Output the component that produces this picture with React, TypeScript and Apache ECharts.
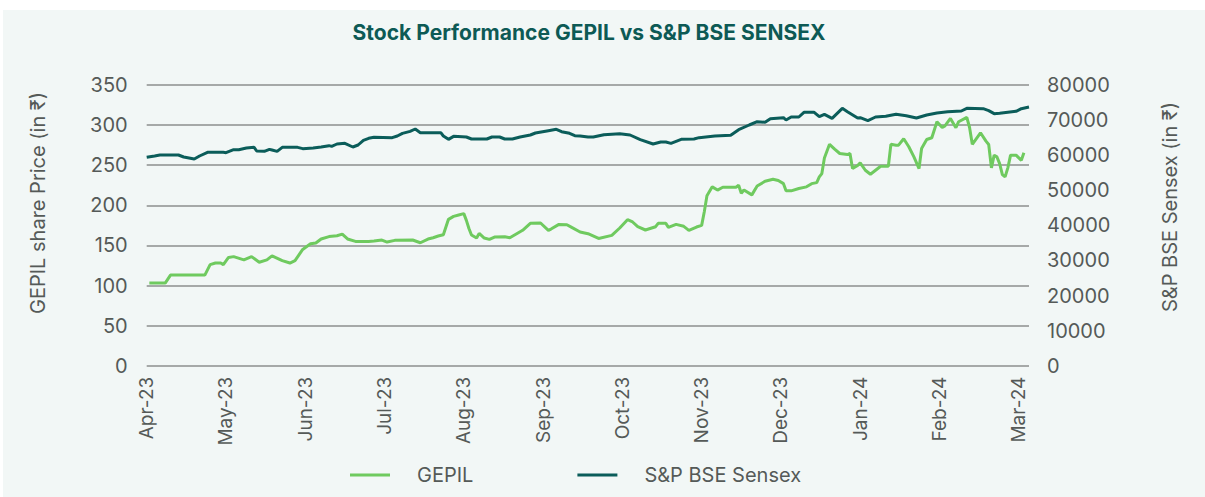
import { useEffect, useRef } from 'react';
import * as echarts from 'echarts';

const monthLabels = ['Apr-23', 'May-23', 'Jun-23', 'Jul-23', 'Aug-23', 'Sep-23', 'Oct-23', 'Nov-23', 'Dec-23', 'Jan-24', 'Feb-24', 'Mar-24'];

const gepilDates = [
  '2023-04-02', '2023-04-08', '2023-04-10', '2023-04-23', '2023-04-25', '2023-04-27', '2023-04-29', '2023-04-30',
  '2023-05-02', '2023-05-04', '2023-05-08', '2023-05-11', '2023-05-14', '2023-05-17', '2023-05-19', '2023-05-23',
  '2023-05-26', '2023-05-28', '2023-05-31', '2023-06-03', '2023-06-05', '2023-06-07', '2023-06-10', '2023-06-13',
  '2023-06-15', '2023-06-17', '2023-06-20', '2023-06-25', '2023-06-27', '2023-06-30', '2023-07-02', '2023-07-05',
  '2023-07-12', '2023-07-15', '2023-07-18', '2023-07-20', '2023-07-22', '2023-07-24', '2023-07-26', '2023-07-28',
  '2023-07-30', '2023-08-01', '2023-08-02', '2023-08-03', '2023-08-04', '2023-08-06', '2023-08-07', '2023-08-09',
  '2023-08-11', '2023-08-13', '2023-08-17', '2023-08-19', '2023-08-24', '2023-08-27', '2023-08-31', '2023-09-03',
  '2023-09-04', '2023-09-07', '2023-09-10', '2023-09-12', '2023-09-15', '2023-09-18', '2023-09-22', '2023-09-27',
  '2023-09-30', '2023-10-03', '2023-10-05', '2023-10-07', '2023-10-10', '2023-10-14', '2023-10-15', '2023-10-18',
  '2023-10-19', '2023-10-22', '2023-10-25', '2023-10-27', '2023-10-30', '2023-11-01', '2023-11-02', '2023-11-03',
  '2023-11-05', '2023-11-07', '2023-11-09', '2023-11-14', '2023-11-15', '2023-11-16', '2023-11-17', '2023-11-20',
  '2023-11-22', '2023-11-25', '2023-11-28', '2023-11-30', '2023-12-02', '2023-12-03', '2023-12-05', '2023-12-08',
  '2023-12-11', '2023-12-13', '2023-12-15', '2023-12-16', '2023-12-17', '2023-12-18', '2023-12-20', '2023-12-22',
  '2023-12-24', '2023-12-27', '2023-12-28', '2023-12-29', '2023-12-31', '2024-01-01', '2024-01-03', '2024-01-05',
  '2024-01-09', '2024-01-12', '2024-01-13', '2024-01-15', '2024-01-16', '2024-01-18', '2024-01-20', '2024-01-22',
  '2024-01-24', '2024-01-25', '2024-01-27', '2024-01-29', '2024-01-31', '2024-02-02', '2024-02-03', '2024-02-05',
  '2024-02-07', '2024-02-08', '2024-02-11', '2024-02-12', '2024-02-13', '2024-02-16', '2024-02-18', '2024-02-19',
  '2024-02-20', '2024-02-21', '2024-02-22', '2024-02-23', '2024-02-24', '2024-02-25', '2024-02-26', '2024-02-27',
  '2024-02-29', '2024-03-02', '2024-03-03',
];
const gepilPrices = [
  103, 103, 113, 113, 126, 128, 128, 126,
  135, 136, 132, 136, 129, 132, 137, 131,
  128, 131, 145, 152, 153, 158, 161, 162,
  164, 158, 155, 155, 155.5, 156.7, 154.2, 156.3,
  156.7, 153.3, 157.9, 159.6, 161.7, 163.3, 182.5, 186.2,
  187.9, 189.6, 181.2, 171, 163, 159.2, 165, 159.2,
  157.5, 160.4, 160.8, 159.6, 168.8, 177.5, 177.9, 168.8,
  170.4, 176.2, 175.8, 172.1, 166.7, 164.6, 158.7, 162.5,
  171.7, 182.1, 179.2, 173.3, 169.2, 173.3, 177.5, 177.5,
  172.5, 176.2, 173.8, 168.8, 172.9, 175, 192, 212,
  223, 219, 222.5, 222.5, 225, 215, 219, 213,
  224, 230, 232.5, 231, 227, 218, 218, 221,
  223, 227, 228.3, 235.4, 239.6, 259, 276, 270,
  264.6, 263.3, 264.6, 245.8, 249.6, 252.9, 243.7, 238.7,
  248.7, 248.7, 276, 275, 275, 283, 273, 260.4,
  245.8, 270.8, 282, 284.2, 304.2, 297, 299, 308.3,
  296.7, 304.2, 309.6, 297, 276, 290.4, 280, 275.8,
  246.7, 262.5, 260.4, 252, 238.3, 235.4, 246.7, 262.5,
  262.5, 256, 265.4,
];

const sensexDates = [
  '2023-04-01', '2023-04-04', '2023-04-06', '2023-04-13', '2023-04-15', '2023-04-19', '2023-04-21', '2023-04-24',
  '2023-04-30', '2023-05-01', '2023-05-04', '2023-05-06', '2023-05-09', '2023-05-12', '2023-05-13', '2023-05-16',
  '2023-05-18', '2023-05-19', '2023-05-21', '2023-05-23', '2023-05-29', '2023-05-31', '2023-06-04', '2023-06-07',
  '2023-06-10', '2023-06-11', '2023-06-13', '2023-06-16', '2023-06-19', '2023-06-21', '2023-06-23', '2023-06-25',
  '2023-06-27', '2023-07-04', '2023-07-06', '2023-07-08', '2023-07-11', '2023-07-13', '2023-07-15', '2023-07-23',
  '2023-07-24', '2023-07-26', '2023-07-28', '2023-08-02', '2023-08-04', '2023-08-10', '2023-08-12', '2023-08-15',
  '2023-08-17', '2023-08-20', '2023-08-23', '2023-08-27', '2023-08-29', '2023-09-03', '2023-09-06', '2023-09-08',
  '2023-09-11', '2023-09-13', '2023-09-15', '2023-09-18', '2023-09-20', '2023-09-24', '2023-09-30', '2023-10-04',
  '2023-10-08', '2023-10-13', '2023-10-16', '2023-10-18', '2023-10-20', '2023-10-24', '2023-10-29', '2023-10-31',
  '2023-11-06', '2023-11-12', '2023-11-15', '2023-11-19', '2023-11-22', '2023-11-25', '2023-11-27', '2023-12-02',
  '2023-12-03', '2023-12-05', '2023-12-08', '2023-12-10', '2023-12-14', '2023-12-16', '2023-12-18', '2023-12-21',
  '2023-12-25', '2023-12-27', '2023-12-31', '2024-01-01', '2024-01-04', '2024-01-07', '2024-01-11', '2024-01-15',
  '2024-01-19', '2024-01-23', '2024-01-27', '2024-01-31', '2024-02-04', '2024-02-09', '2024-02-11', '2024-02-17',
  '2024-02-19', '2024-02-21', '2024-02-23', '2024-02-26', '2024-02-29', '2024-03-02', '2024-03-05',
];
const sensexValues = [
  59390, 59765, 60050, 60050, 59480, 58910, 59765, 60810,
  60810, 60715, 61570, 61570, 62045, 62235, 61190, 61095,
  61665, 61475, 61095, 62235, 62235, 61855, 62045, 62330,
  62710, 62520, 63185, 63375, 62330, 62900, 64230, 64800,
  65085, 64990, 65465, 66225, 66795, 67460, 66415, 66415,
  65465, 64515, 65370, 65180, 64610, 64610, 65180, 65180,
  64610, 64610, 65180, 65750, 66320, 66985, 67365, 66700,
  66225, 65560, 65465, 65180, 65180, 65845, 66130, 65750,
  64420, 63185, 63755, 63755, 63375, 64515, 64610, 64990,
  65465, 65655, 67270, 68600, 69550, 69360, 70405, 70690,
  70025, 70880, 70880, 72210, 72210, 70975, 71640, 70500,
  73350, 72400, 70595, 70690, 69835, 70880, 71070, 71640,
  71260, 70595, 71450, 72020, 72400, 72590, 73350, 73255,
  72685, 71830, 71925, 72210, 72495, 73255, 73730,
];

const priceTicks = { min: 0, max: 350, step: 50 };
const sensexTicks = { min: 0, max: 80000, step: 10000 };

function monthPos(s: string): number {
  const [y, m, d] = s.split('-').map(Number);
  const dim = new Date(y, m, 0).getDate();
  return (y - 2023) * 12 + (m - 4) + (d - 1) / dim;
}

const FONT = 'Inter, "Noto Sans", sans-serif';
const GRAY = '#555a58';

export default function App() {
  const ref = useRef<HTMLDivElement>(null);
  useEffect(() => {
    if (!ref.current) return;
    const chart = echarts.init(ref.current, undefined, { renderer: 'svg' });
    chart.setOption({
      animation: false,
      backgroundColor: '#ffffff',
      textStyle: { fontFamily: FONT },
      title: {
        text: 'Stock Performance GEPIL vs S&P BSE SENSEX',
        left: 584,
        top: 17,
        textAlign: 'center',
        textStyle: { fontSize: 21, fontWeight: 'bold', color: '#0d5a55', fontFamily: FONT },
      },
      graphic: [
        {
          type: 'rect',
          z: -100,
          silent: true,
          shape: { x: 3, y: 10, width: 1202, height: 487 },
          style: { fill: '#f2f7f6' },
        },
        {
          type: 'text',
          x: 38,
          y: 203,
          rotation: Math.PI / 2,
          style: {
            text: 'GEPIL share Price (in ₹)',
            fill: GRAY,
            font: `20px ${FONT}`,
            align: 'center',
            verticalAlign: 'middle',
          },
        },
        {
          type: 'text',
          x: 1170,
          y: 207,
          rotation: Math.PI / 2,
          style: {
            text: 'S&P BSE Sensex (in ₹)',
            fill: GRAY,
            font: `20px ${FONT}`,
            align: 'center',
            verticalAlign: 'middle',
          },
        },
      ],
      legend: {
        left: 345,
        top: 460,
        icon: 'rect',
        itemWidth: 40,
        itemHeight: 3,
        itemGap: 104,
        textStyle: { fontSize: 20, color: GRAY, fontFamily: FONT, padding: [0, 0, 0, 22] },
        data: ['GEPIL', 'S&P BSE Sensex'],
      },
      grid: { left: 146.7, right: 176, top: 85, bottom: 131.3, containLabel: false },
      xAxis: {
        type: 'value',
        min: 0,
        max: 'dataMax',
        interval: 1,
        axisLine: { show: false },
        axisTick: { show: false },
        splitLine: { show: false },
        axisLabel: {
          rotate: 90,
          margin: 11,
          color: GRAY,
          fontSize: 19,
          fontFamily: FONT,
          formatter: (v: number) => (Number.isInteger(v) && monthLabels[v] ? monthLabels[v] : ''),
        },
      },
      yAxis: [
        {
          type: 'value',
          min: priceTicks.min,
          max: priceTicks.max,
          interval: priceTicks.step,
          axisLine: { show: false },
          axisTick: { show: false },
          axisLabel: { color: GRAY, fontSize: 20, margin: 19, fontFamily: FONT },
          splitLine: { show: true, lineStyle: { color: '#8d8f8e', width: 1.5 } },
        },
        {
          type: 'value',
          min: sensexTicks.min,
          max: sensexTicks.max,
          interval: sensexTicks.step,
          position: 'right',
          axisLine: { show: false },
          axisTick: { show: false },
          axisLabel: {
            color: GRAY,
            fontSize: 20,
            margin: 18,
            fontFamily: FONT,
            formatter: (v: number) => String(v),
          },
          splitLine: { show: false },
        },
      ],
      series: [
        {
          name: 'GEPIL',
          type: 'line',
          yAxisIndex: 0,
          data: gepilDates.map((d, i) => [monthPos(d), gepilPrices[i]]),
          showSymbol: false,
          symbol: 'none',
          lineStyle: { width: 3, color: '#6fca5f' },
          itemStyle: { color: '#6fca5f' },
        },
        {
          name: 'S&P BSE Sensex',
          type: 'line',
          yAxisIndex: 1,
          data: sensexDates.map((d, i) => [monthPos(d), sensexValues[i]]),
          showSymbol: false,
          symbol: 'none',
          lineStyle: { width: 3, color: '#0b5d5a' },
          itemStyle: { color: '#0b5d5a' },
        },
      ],
    });
    return () => chart.dispose();
  }, []);
  return <div ref={ref} style={{ position: 'fixed', left: 0, top: 0, width: 1205, height: 497 }} />;
}
